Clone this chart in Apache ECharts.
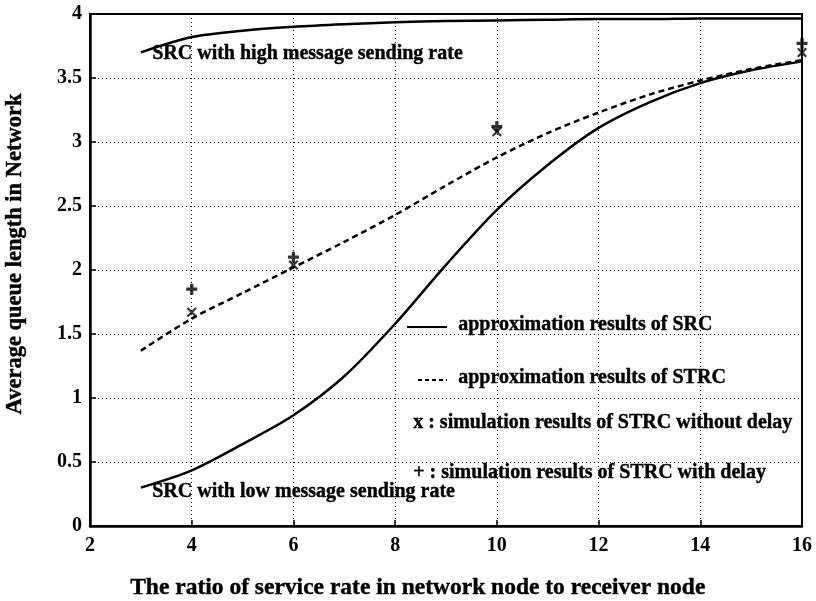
<!DOCTYPE html>
<html>
<head>
<meta charset="utf-8">
<script src="https://cdn.jsdelivr.net/npm/echarts@6/dist/echarts.min.js"></script>
<style>
html, body { margin: 0; padding: 0; background: #fff; }
#chart { width: 816px; height: 601px; }
</style>
</head>
<body>
<div id="chart"></div>
<script>
// Ratio of service rate (network node / receiver node)
const ratioCurve = [3, 4, 5, 6, 7, 8, 9, 10, 11, 12, 13, 14, 15, 16];
// SRC approximation, high message sending rate
const srcHigh = [3.70, 3.82, 3.87, 3.90, 3.92, 3.935, 3.945, 3.95, 3.955, 3.96, 3.96, 3.965, 3.965, 3.965];
// SRC approximation, low message sending rate
const srcLow = [0.30, 0.435, 0.64, 0.865, 1.17, 1.58, 2.04, 2.47, 2.82, 3.11, 3.31, 3.46, 3.56, 3.63];
// STRC approximation
const strcApprox = [1.37, 1.62, 1.82, 2.02, 2.22, 2.43, 2.66, 2.88, 3.07, 3.23, 3.37, 3.48, 3.57, 3.64];
// Simulation points
const simRatio = [4, 6, 10, 16];
const simNoDelay = [1.67, 2.04, 3.08, 3.70];
const simDelay = [1.85, 2.10, 3.12, 3.77];

const xTicks = [2, 4, 6, 8, 10, 12, 14, 16];
const yTicks = ['0', '0.5', '1', '1.5', '2', '2.5', '3', '3.5', '4'];

const FONT = '"Liberation Serif", "DejaVu Serif", serif';

const pair = (xs, ys) => xs.map((x, i) => [x, ys[i]]);

const crossPath = 'path://M0,1.5 L1.5,0 L5,3.5 L8.5,0 L10,1.5 L6.5,5 L10,8.5 L8.5,10 L5,6.5 L1.5,10 L0,8.5 L3.5,5 Z';
const plusPath = 'path://M3.5,0 L6.5,0 L6.5,3.5 L10,3.5 L10,6.5 L6.5,6.5 L6.5,10 L3.5,10 L3.5,6.5 L0,6.5 L0,3.5 L3.5,3.5 Z';

const chart = echarts.init(document.getElementById('chart'), null, { renderer: 'canvas' });

const gridLine = { show: true, lineStyle: { color: '#000', type: [1, 3], width: 1 } };
const txt = (t, x, y, size) => ({
  type: 'text', left: x, top: y,
  style: { text: t, font: 'bold ' + (size || 20) + 'px ' + FONT, fill: '#000', stroke: '#000', lineWidth: 0.4 }
});

chart.setOption({
  animation: false,
  backgroundColor: '#fff',
  grid: { left: 90, right: 14, top: 14, bottom: 75, show: true, borderColor: '#000', borderWidth: 2 },
  xAxis: {
    type: 'value', min: 2, max: 16, interval: 2,
    axisLine: { show: true, onZero: false, lineStyle: { color: '#000', width: 2.5 } },
    axisTick: { show: true, inside: true, length: 6, lineStyle: { color: '#000', width: 1.5 } },
    axisLabel: {
      color: '#000', fontFamily: FONT, fontWeight: 'bold', fontSize: 20, margin: 10,
      formatter: v => String(xTicks[xTicks.indexOf(v)])
    },
    splitLine: gridLine
  },
  yAxis: {
    type: 'value', min: 0, max: 4, interval: 0.5,
    axisLine: { show: true, lineStyle: { color: '#000', width: 2.5 } },
    axisTick: { show: true, inside: true, length: 6, lineStyle: { color: '#000', width: 1.5 } },
    axisLabel: {
      color: '#000', fontFamily: FONT, fontWeight: 'bold', fontSize: 20, margin: 8,
      formatter: v => yTicks[Math.round(v * 2)]
    },
    splitLine: gridLine
  },
  series: [
    {
      name: 'SRC high', type: 'line', data: pair(ratioCurve, srcHigh), smooth: 0.3,
      showSymbol: false, lineStyle: { color: '#000', width: 2.5 }
    },
    {
      name: 'SRC low', type: 'line', data: pair(ratioCurve, srcLow), smooth: 0.3,
      showSymbol: false, lineStyle: { color: '#000', width: 2.5 }
    },
    {
      name: 'STRC', type: 'line', data: pair(ratioCurve, strcApprox), smooth: 0.3,
      showSymbol: false, lineStyle: { color: '#000', width: 2.5, type: [6, 4] }
    },
    {
      name: 'sim without delay', type: 'scatter', data: pair(simRatio, simNoDelay),
      symbol: crossPath, symbolSize: 10, itemStyle: { color: '#000' }
    },
    {
      name: 'sim with delay', type: 'scatter', data: pair(simRatio, simDelay),
      symbol: plusPath, symbolSize: 11, itemStyle: { color: '#000' }
    }
  ],
  graphic: [
    txt('SRC with high message sending rate', 152, 44),
    txt('SRC with low message sending rate', 152, 482),
    { type: 'line', shape: { x1: 407, y1: 327, x2: 447, y2: 327 }, style: { stroke: '#000', lineWidth: 2 } },
    txt('approximation results of SRC', 458, 315),
    { type: 'line', shape: { x1: 418, y1: 380, x2: 447, y2: 380 }, style: { stroke: '#000', lineWidth: 2, lineDash: [4, 3] } },
    txt('approximation results of STRC', 458, 368),
    txt('x : simulation results of STRC without delay', 413, 413),
    txt('+ : simulation results of STRC with delay', 413, 463),
    txt('The ratio of service rate in network node to receiver node', 130, 576, 23.5),
    {
      type: 'text', x: 15, y: 254, rotation: Math.PI / 2,
      style: { text: 'Average queue length in Network', font: 'bold 22.5px ' + FONT, fill: '#000', stroke: '#000', lineWidth: 0.4, align: 'center', verticalAlign: 'middle' }
    }
  ]
});
</script>
</body>
</html>
